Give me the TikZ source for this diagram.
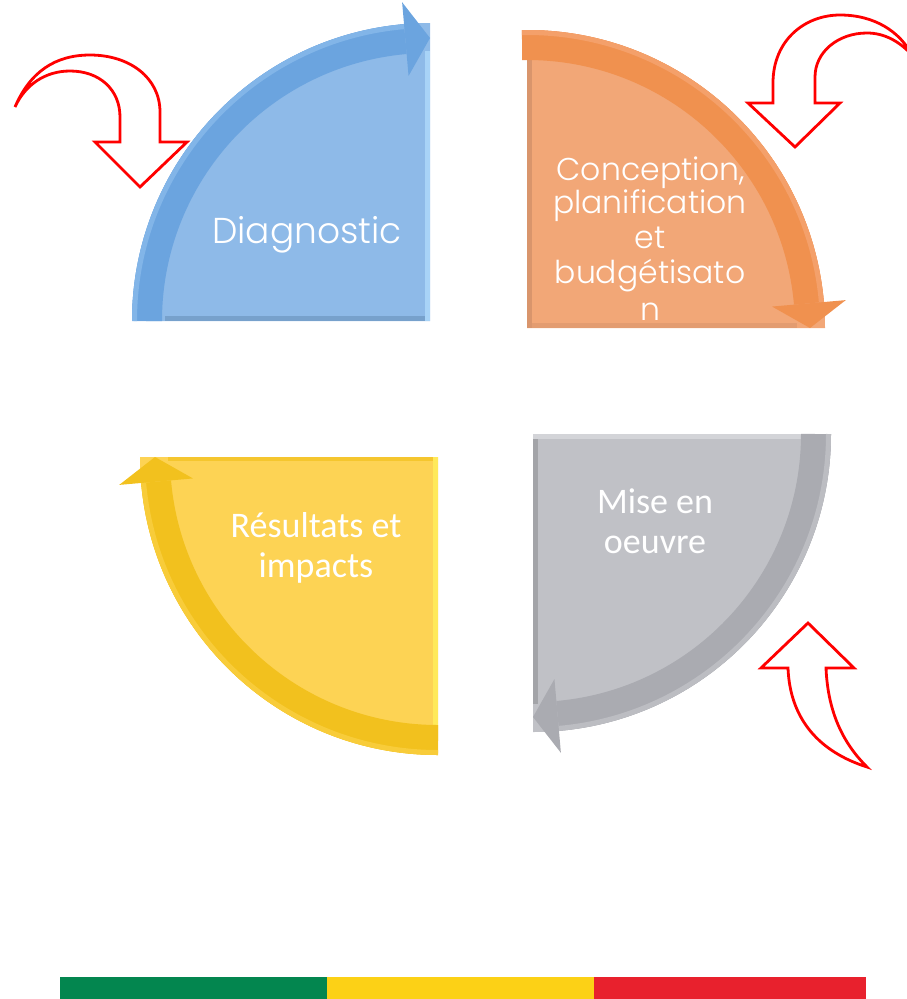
\documentclass[tikz,border=0pt]{standalone}
\usepackage{fontspec}
\setmainfont{Poppins}[UprightFont=* Light]
\newfontfamily\calib{Carlito}
\definecolor{bluebody}{HTML}{8EBAE8}
\definecolor{blueband}{HTML}{6BA4DF}
\definecolor{bluelite}{HTML}{82B5E8}
\definecolor{bluebevel}{HTML}{A8D3F7}
\definecolor{orgbody}{HTML}{F2A777}
\definecolor{orgband}{HTML}{F0914F}
\definecolor{orglite}{HTML}{F4A06A}
\definecolor{orgbevel}{HTML}{D9956C}
\definecolor{graybody}{HTML}{C0C1C6}
\definecolor{grayband}{HTML}{AAABB1}
\definecolor{graylite}{HTML}{BCBDC2}
\definecolor{graybevel}{HTML}{D3D4D8}
\definecolor{yelbody}{HTML}{FDD354}
\definecolor{yelband}{HTML}{F2C11E}
\definecolor{yellite}{HTML}{F8CC3A}
\definecolor{yelbevel}{HTML}{FFE95A}
\definecolor{flaggreen}{HTML}{03864F}
\definecolor{flagyellow}{HTML}{FCD116}
\definecolor{flagred}{HTML}{E8212D}
\definecolor{arrowred}{HTML}{FF0000}
\tikzset{
  lbl/.style={text=white, inner sep=0pt, anchor=base},
  gothic/.style={font=\fontsize{36}{40}\selectfont},
  gothicsm/.style={font=\fontsize{31.5}{35}\selectfont},
  calibri/.style={font=\calib\fontsize{36}{40}\selectfont},
  redarrow/.style={draw=arrowred, line width=2.8pt, line join=miter},
}
\begin{document}
\begin{tikzpicture}[x=1pt,y=-1pt]
\useasboundingbox (0,0) rectangle (907,999);

% ---------- Diagnostic (blue) ----------
\begin{scope}[shift={(430,321)}]
  \fill[bluebody] (0,0) -- (180:298) arc[start angle=180,end angle=270,radius=298] -- cycle;
  \fill[bluebevel] (-5,-270) rectangle (0,0);
  \fill[bluelite!80!black!60!bluebody] (-265,-5) rectangle (-5,0);
\end{scope}
\node[lbl,gothic] (diag) at (307,243) {Diagnostic};
\begin{scope}[shift={(430,321)}]
  \draw[line width=30pt, blueband] (180:283) arc[start angle=180,end angle=265,radius=283];
  \draw[line width=5pt, bluelite] (180:295.5) arc[start angle=180,end angle=265,radius=295.5];
  \fill[blueband] (265:246) -- (265:320) -- (270:283) -- cycle;
\end{scope}

% ---------- Conception (orange) ----------
\begin{scope}[shift={(527,328)}]
  \fill[orgbody] (0,0) -- (270:298) arc[start angle=270,end angle=360,radius=298] -- cycle;
  \fill[orgbevel] (0,-268) rectangle (5,0);
  \fill[orgbevel!60!orgbody] (5,-5) rectangle (270,0);
\end{scope}
\node[lbl,gothicsm] (c1) at (651,180) {Conception,};
\node[lbl,gothicsm] (c2) at (650,213) {planification};
\node[lbl,gothicsm] (c3) at (650,248) {et};
\node[lbl,gothicsm] (c4) at (650,283) {budgétisato};
\node[lbl,gothicsm] (c5) at (650,320) {n};
\begin{scope}[shift={(527,328)}]
  \draw[line width=30pt, orgband] (269:283) arc[start angle=269,end angle=355,radius=283];
  \draw[line width=5pt, orglite] (269:295.5) arc[start angle=269,end angle=355,radius=295.5];
  \fill[orgband] (355:246) -- (355:320) -- (360:283) -- cycle;
\end{scope}

% ---------- Mise en oeuvre (gray) ----------
\begin{scope}[shift={(533,434)}]
  \fill[graybody] (0,0) -- (0:298) arc[start angle=0,end angle=90,radius=298] -- cycle;
  \fill[graybevel] (0,0) rectangle (270,5);
  \fill[graybody!85!black] (0,5) rectangle (5,270);
\end{scope}
\node[lbl,calibri] (m1) at (655,513) {Mise en};
\node[lbl,calibri] (m2) at (655,553) {oeuvre};
\begin{scope}[shift={(533,434)}]
  \draw[line width=30pt, grayband] (0:283) arc[start angle=0,end angle=85,radius=283];
  \draw[line width=5pt, graylite] (0:295.5) arc[start angle=0,end angle=85,radius=295.5];
  \fill[grayband] (85:246) -- (85:320) -- (90:283) -- cycle;
\end{scope}

% ---------- Résultats et impacts (yellow) ----------
\begin{scope}[shift={(438,457)}]
  \fill[yelbody] (0,0) -- (90:298) arc[start angle=90,end angle=180,radius=298] -- cycle;
  \fill[yelbevel] (-5,0) rectangle (0,270);
  \fill[yelband!70!yelbody] (-270,0) rectangle (-5,4);
\end{scope}
\node[lbl,calibri] (r1) at (316,537) {Résultats et};
\node[lbl,calibri] (r2) at (316,577) {impacts};
\begin{scope}[shift={(438,457)}]
  \draw[line width=30pt, yelband] (90:283) arc[start angle=90,end angle=175,radius=283];
  \draw[line width=5pt, yellite] (90:295.5) arc[start angle=90,end angle=175,radius=295.5];
  \fill[yelband] (175:246) -- (175:320) -- (180:283) -- cycle;
\end{scope}

% ---------- red curved arrows ----------
\draw[redarrow] (15,107) .. controls (30,72) and (55,55) .. (90,55)
  .. controls (130,55) and (160,78) .. (160,112) -- (160,142) -- (187,142)
  -- (140,187) -- (95,142) -- (120,142) -- (120,117)
  .. controls (120,90) and (100,71) .. (70,71)
  .. controls (45,71) and (25,85) .. (15,107) -- cycle;

\draw[redarrow] (773,103) -- (773,83) .. controls (773,40) and (805,15) .. (840,15)
  .. controls (875,15) and (900,32) .. (912,55)
  .. controls (900,42) and (885,33) .. (867,33)
  .. controls (838,33) and (815,52) .. (815,77) -- (815,103) -- (840,103)
  -- (795,147) -- (748,103) -- cycle;

\draw[redarrow] (788,668) .. controls (790,720) and (820,752) .. (867,767)
  .. controls (845,745) and (828,715) .. (826,668) -- (854,668)
  -- (808,623) -- (761,668) -- cycle;

% ---------- flag bar ----------
\fill[flaggreen] (60,977) rectangle (327,999);
\fill[flagyellow] (327,977) rectangle (594,999);
\fill[flagred] (594,977) rectangle (866,999);
\end{tikzpicture}
\end{document}
